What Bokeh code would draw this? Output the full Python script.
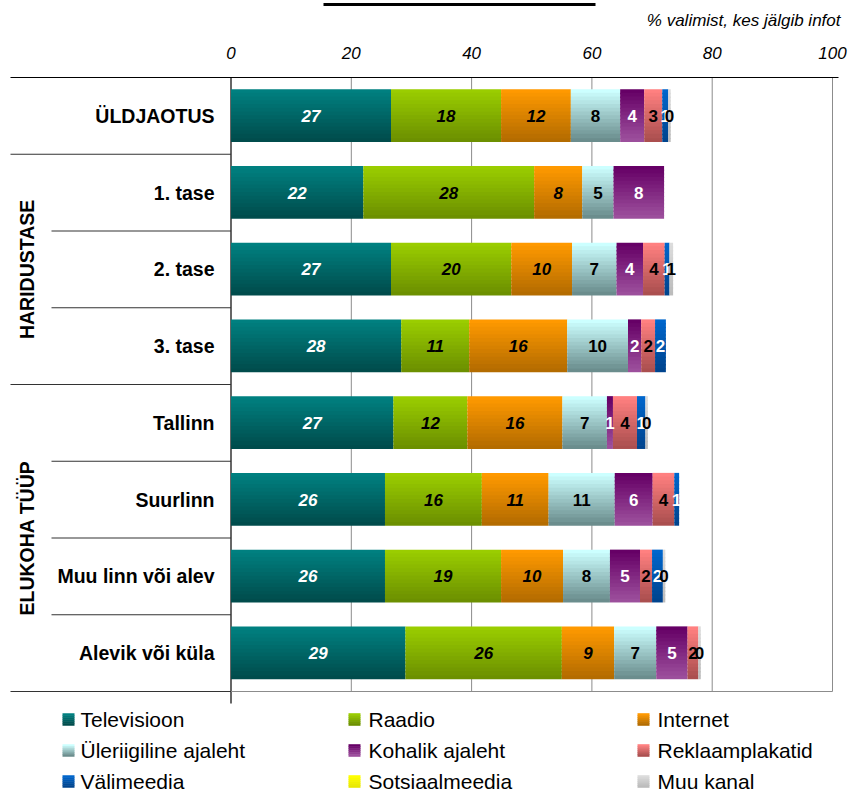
import math

from bokeh.plotting import figure
from bokeh.models import ColumnDataSource, Range1d
from bokeh.embed import file_html
from bokeh.resources import INLINE
from bokeh.core.properties import value

# ---- data -------------------------------------------------------------
rows = ["ÜLDJAOTUS", "1. tase", "2. tase", "3. tase",
        "Tallinn", "Suurlinn", "Muu linn või alev", "Alevik või küla"]
groups = ["HARIDUSTASE", "ELUKOHA TÜÜP"]
group_rows = [[1, 2, 3], [4, 5, 6, 7]]

channels = ["Televisioon", "Raadio", "Internet",
            "Üleriigiline ajaleht", "Kohalik ajaleht", "Reklaamplakatid",
            "Välimeedia", "Sotsiaalmeedia", "Muu kanal"]

televisioon = [26.6, 22.0, 26.6, 28.3, 27.0, 25.6, 25.6, 29.0]
raadio = [18.3, 28.4, 20.0, 11.3, 12.3, 16.1, 19.3, 26.0]
internet = [11.6, 8.0, 10.1, 16.3, 15.8, 11.1, 10.3, 8.7]
uleriigiline = [8.2, 5.2, 7.4, 10.1, 7.4, 11.0, 7.8, 7.0]
kohalik = [4.0, 8.4, 4.4, 2.2, 1.0, 6.3, 5.0, 5.2]
reklaam = [3.0, 0.0, 3.6, 2.3, 4.0, 3.6, 2.0, 1.8]
valimeedia = [1.0, 0.0, 0.8, 1.8, 1.4, 0.8, 1.8, 0.0]
sotsiaalmeedia = [0.0, 0.0, 0.0, 0.0, 0.0, 0.0, 0.0, 0.0]
muu_kanal = [0.4, 0.0, 0.6, 0.0, 0.4, 0.0, 0.4, 0.4]

series = [televisioon, raadio, internet, uleriigiline, kohalik,
          reklaam, valimeedia, sotsiaalmeedia, muu_kanal]

x_ticks = [0, 20, 40, 60, 80, 100]
unit_note = "% valimist, kes jälgib infot"

# ---- styling ----------------------------------------------------------
# (top colour, bottom colour) of each channel's vertical gradient
grad = [("#008080", "#004c4c"),
        ("#9acd00", "#6c9000"),
        ("#ff9900", "#b46c00"),
        ("#ccffff", "#6b8d8d"),
        ("#660066", "#9c4f9c"),
        ("#ff8080", "#ab4f4f"),
        ("#0066cc", "#00448e"),
        ("#ffff00", "#e8e800"),
        ("#dcdcdc", "#bcbcbc")]
label_color = ["white", "black", "black", "black", "white",
               "black", "white", "black", "black"]
label_style = ["bold italic", "bold italic", "bold italic", "bold", "bold",
               "bold", "bold", "bold", "bold"]

FONT = value("Liberation Sans")
W, H = 848, 794
X0_PX, PX_PER_UNIT = 230.5, 6.015     # where 0 % sits, pixels per percent
Y0_PX, ROW_PX = 77.0, 76.75           # top of the plot area, pixels per row
BAR_H = 0.68
N_STRIPS = 14


def sx(px):
    return (px - X0_PX) / PX_PER_UNIT


def sy(py):
    return (py - Y0_PX) / ROW_PX - 0.5


def mix(c1, c2, t):
    a = [int(c1[i:i + 2], 16) for i in (1, 3, 5)]
    b = [int(c2[i:i + 2], 16) for i in (1, 3, 5)]
    return "#%02x%02x%02x" % tuple(round(a[k] + (b[k] - a[k]) * t) for k in range(3))


p = figure(width=W, height=H, output_backend="svg", toolbar_location=None,
           x_range=Range1d(sx(0), sx(W)), y_range=Range1d(sy(H), sy(0)),
           x_axis_type=None, y_axis_type=None, min_border=0,
           outline_line_color=None, background_fill_color="white",
           border_fill_color="white")
p.grid.visible = False

# ---- grid and frame lines ----------------------------------------------
n_rows = len(rows)
top, bottom = -0.5, n_rows - 0.5
p.segment(x0=x_ticks[1:], y0=top, x1=x_ticks[1:], y1=bottom,
          line_color="#8c8c8c", line_width=1)
p.segment(x0=[0, sx(10)], y0=[top, top], x1=[0, sx(838)], y1=[sy(703), top],
          line_color="black", line_width=1.2)
p.segment(x0=[sx(10), 0], y0=[bottom, bottom], x1=[0, 100], y1=[bottom, bottom],
          line_color=["#333333", "#8c8c8c"], line_width=1.2)

# separators between row groups (long) and inside groups (short)
long_sep = [0.5, 3.5]
short_sep = [r + 0.5 for g in group_rows for r in g[:-1]]
p.segment(x0=sx(10), y0=long_sep, x1=0, y1=long_sep,
          line_color="#333333", line_width=1.2)
p.segment(x0=sx(51), y0=short_sep, x1=0, y1=short_sep,
          line_color="#333333", line_width=1.2)

# ---- stacked bars with vertical gradient --------------------------------
bar = dict(y=[], left=[], right=[], h=[], c=[])
lab = dict(x=[], y=[], t=[], c=[], s=[])
for i in range(n_rows):
    left = 0.0
    for s, vals in enumerate(series):
        v = vals[i]
        if v <= 0:
            continue
        for k in range(N_STRIPS):
            t = k / (N_STRIPS - 1)
            bar["y"].append(i - BAR_H / 2 + (k + 0.5) * BAR_H / N_STRIPS)
            bar["left"].append(left)
            bar["right"].append(left + v)
            bar["h"].append(BAR_H / N_STRIPS * (1.35 if k < N_STRIPS - 1 else 1.0))
            bar["c"].append(mix(grad[s][0], grad[s][1], t))
        lab["x"].append(left + v / 2)
        lab["y"].append(i)
        lab["t"].append("%.0f" % v)
        lab["c"].append(label_color[s])
        lab["s"].append(label_style[s])
        left += v

p.hbar(y="y", left="left", right="right", height="h", fill_color="c",
       line_color=None, source=ColumnDataSource(bar))

for style in ("bold italic", "bold"):
    idx = [j for j, st in enumerate(lab["s"]) if st == style]
    src = ColumnDataSource(dict(x=[lab["x"][j] for j in idx],
                                y=[lab["y"][j] for j in idx],
                                t=[lab["t"][j] for j in idx],
                                c=[lab["c"][j] for j in idx]))
    p.text(x="x", y="y", text="t", text_color="c", source=src,
           text_font=FONT, text_font_size="17px", text_font_style=style,
           text_align="center", text_baseline="middle")

# ---- axis labels ---------------------------------------------------------
p.text(x=x_ticks, y=sy(52), text=[str(t) for t in x_ticks], text_font=FONT,
       text_font_size="17px", text_font_style="italic", text_color="black",
       text_align="center", text_baseline="middle")
p.text(x=[sx(840)], y=[sy(20)], text=[unit_note], text_font=FONT,
       text_font_size="17px", text_font_style="italic", text_color="black",
       text_align="right", text_baseline="middle")
p.segment(x0=[sx(323)], y0=[sy(4)], x1=[sx(595)], y1=[sy(4)],
          line_color="black", line_width=3)

p.text(x=sx(214), y=list(range(n_rows)), text=rows, text_font=FONT,
       text_font_size="19.5px", text_font_style="bold", text_color="black",
       text_align="right", text_baseline="middle")
p.text(x=sx(26), y=[sum(g) / len(g) for g in group_rows], text=groups,
       angle=math.pi / 2, text_font=FONT, text_font_size="19.5px",
       text_font_style="bold", text_color="black",
       text_align="center", text_baseline="middle")

# ---- legend --------------------------------------------------------------
sq_px = [68, 354, 643]
txt_px = [80, 368, 657]
row_px = [719, 750, 781]
sq = dict(x=[], y=[], c=[])
for n, name in enumerate(channels):
    r, c = divmod(n, 3)
    for k in range(6):
        sq["x"].append(sx(sq_px[c]))
        sq["y"].append(sy(row_px[r]) + (k - 2.5) * 2 / ROW_PX)
        sq["c"].append(mix(grad[n][0], grad[n][1], k / 5))
p.rect(x="x", y="y", width=12, height=2.6, width_units="screen",
       height_units="screen", fill_color="c", line_color=None,
       source=ColumnDataSource(sq))
p.text(x=[sx(txt_px[n % 3]) for n in range(len(channels))],
       y=[sy(row_px[n // 3]) for n in range(len(channels))],
       text=channels, text_font=FONT, text_font_size="21px",
       text_color="black", text_align="left", text_baseline="middle")

open("out.html", "w").write(file_html(p, INLINE))
